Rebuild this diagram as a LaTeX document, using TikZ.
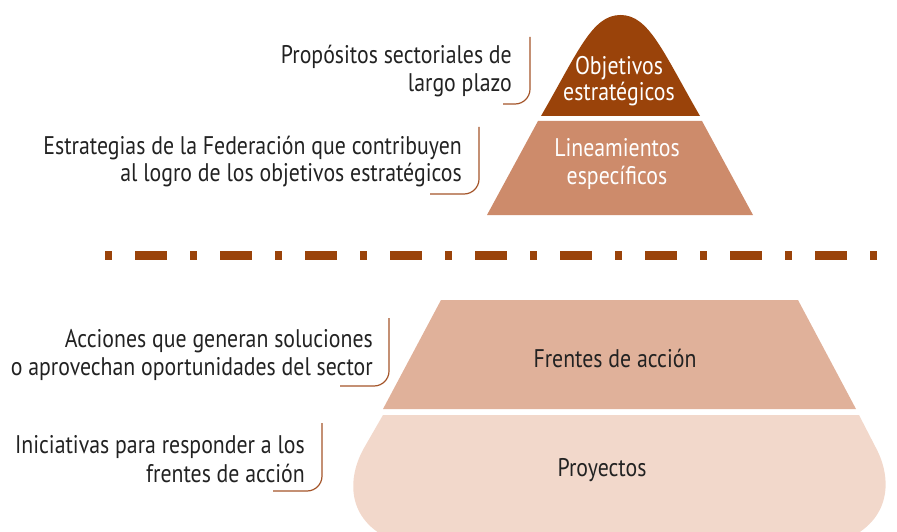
\documentclass[tikz,border=0pt]{standalone}
\usepackage{fontspec}
\setmainfont{PT Sans}[FakeStretch=0.855]
\definecolor{cdark}{HTML}{9A430A}
\definecolor{clin}{HTML}{CD8B6B}
\definecolor{cfre}{HTML}{E0B19A}
\definecolor{cpro}{HTML}{F2D8CB}
\definecolor{cbr}{HTML}{A4552A}
\definecolor{ctxt}{HTML}{222222}
\tikzset{
  lbl/.style={anchor=base east, inner sep=0pt, text=ctxt, font=\fontsize{25.5}{28}\selectfont},
  intxt/.style={anchor=base, inner sep=0pt, font=\fontsize{25.5}{28}\selectfont},
  brk/.style={draw=cbr, line width=1.2pt, rounded corners=15pt},
}
\begin{document}
\begin{tikzpicture}[x=1pt,y=-1pt]
\useasboundingbox (0,0) rectangle (897,532);
\clip (0,0) rectangle (897,532);
% shapes
\fill[cdark] (541,116) .. controls (578,52) and (592,15) .. (620.5,15) .. controls (649,15) and (663,52) .. (700,116) -- cycle;
\fill[clin] (538,121) -- (702,121) -- (753,215) -- (487,215) -- cycle;
\fill[cfre] (441,300) -- (798,300) -- (856,409) -- (383,409) -- cycle;
\fill[cpro] (383,415) -- (859,415) -- (876,448) .. controls (892,478) and (892,520) .. (845,540) -- (392,540) .. controls (346,520) and (347,478) .. (364,448) -- cycle;
% dash-dot separator
\coordinate (sepL) at (105,255.5);
\coordinate (sepR) at (877,255.5);
\draw[cdark, line width=9pt, dash pattern=on 7pt off 23pt on 32pt off 23pt] (sepL) -- (sepR);
% texts inside shapes
\node[intxt, text=white] (o1) at (619,75) {Objetivos};
\node[intxt, text=white] (o2) at (619,101) {estratégicos};
\node[intxt, text=white] (li1) at (617,157) {Lineamientos};
\node[intxt, text=white] (li2) at (617,185) {específicos};
\node[intxt, text=ctxt] (fr) at (615,367) {Frentes de acción};
\node[intxt, text=ctxt] (pr) at (602,476) {Proyectos};
% labels
\node[lbl] (a1) at (512,64) {Propósitos sectoriales de};
\node[lbl] (a2) at (512,92) {largo plazo};
\node[lbl] (b1) at (462,154) {Estrategias de la Federación que contribuyen};
\node[lbl] (b2) at (462,182) {al logro de los objetivos estratégicos};
\node[lbl] (c1) at (373,347) {Acciones que generan soluciones};
\node[lbl] (c2) at (373,375) {o aprovechan oportunidades del sector};
\node[lbl] (d1) at (305,453) {Iniciativas para responder a los};
\node[lbl] (d2) at (305,482) {frentes de acción};
% brackets
\coordinate (a0) at (530,37);  \coordinate (ac) at (530,104); \coordinate (ae) at (503,104);
\coordinate (b0) at (479,127); \coordinate (bc) at (479,194); \coordinate (be) at (430,194);
\coordinate (c0) at (389,318); \coordinate (cc) at (389,386); \coordinate (ce) at (340,386);
\coordinate (d0) at (322,423); \coordinate (dc) at (322,491); \coordinate (de) at (273,491);
\draw[brk] (a0) -- (ac) -- (ae);
\draw[brk] (b0) -- (bc) -- (be);
\draw[brk] (c0) -- (cc) -- (ce);
\draw[brk] (d0) -- (dc) -- (de);
\end{tikzpicture}
\end{document}
